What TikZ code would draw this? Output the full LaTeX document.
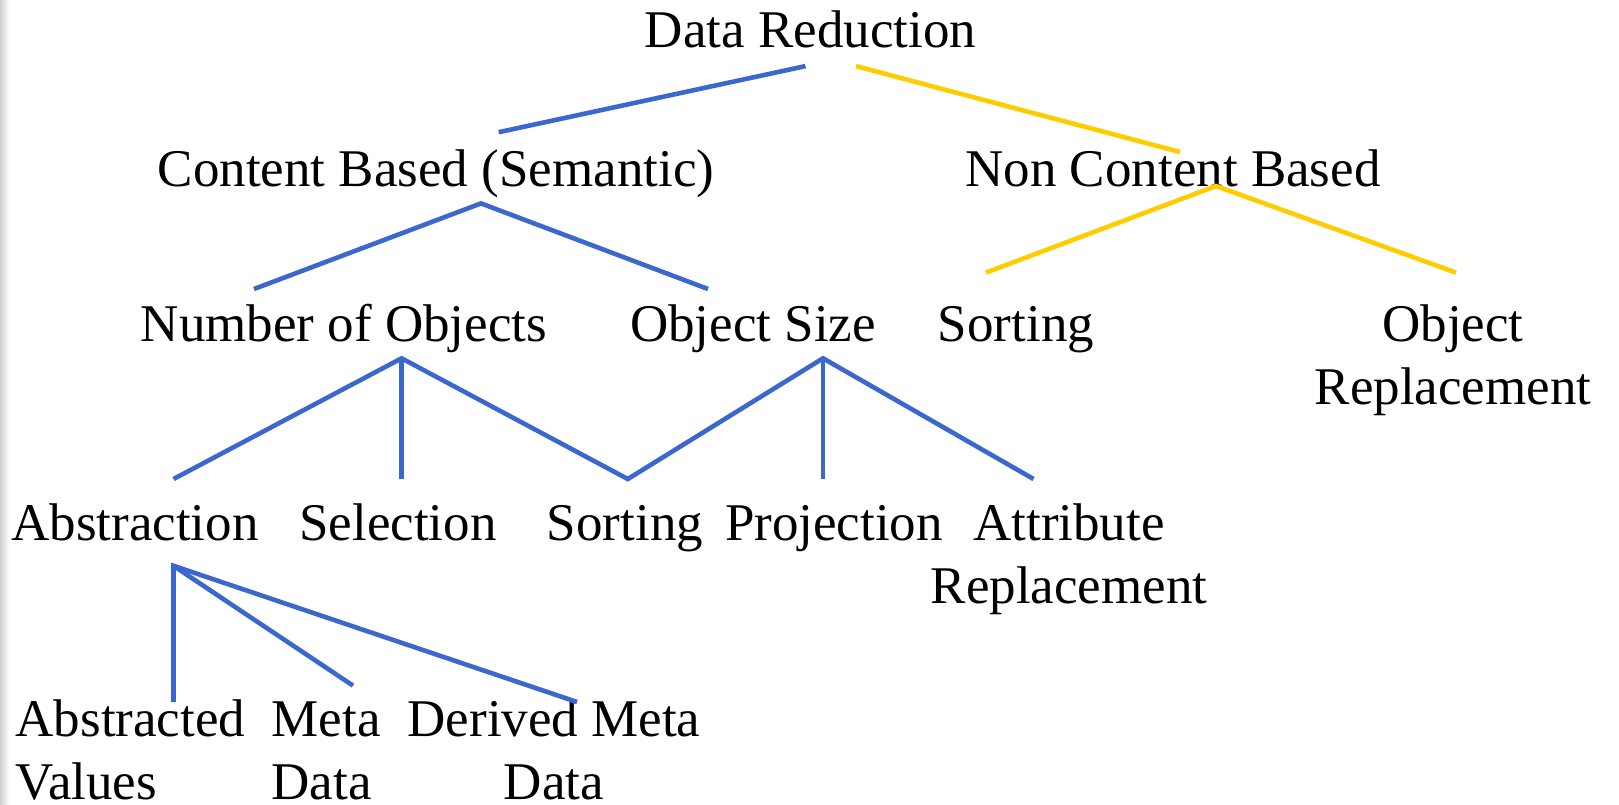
\documentclass[tikz,border=0pt]{standalone}
\usepackage{fontspec}
\setmainfont{Liberation Serif}
\usepackage{tikz}
\definecolor{TreeBlue}{RGB}{59,104,206}
\definecolor{TreeGold}{RGB}{255,204,0}
\newcommand{\lvlya}{47.5}
\newcommand{\lvlyb}{186}
\newcommand{\lvlyc}{341}
\newcommand{\lvlyd}{540}
\newcommand{\lvlye}{736}
\newcommand{\lnskip}{63.6}
\tikzset{
  bluebr/.style={draw=TreeBlue,line width=4.6pt},
  goldbr/.style={draw=TreeGold,line width=4.6pt}
}

\begin{document}
\begin{tikzpicture}[x=1pt,y=-1pt,anchor=base,inner sep=0pt,
    font=\fontsize{53}{63.6}\selectfont]
    \useasboundingbox (0,0) rectangle (1619,804);
    \shade[left color=black!18,right color=white] (0,0) rectangle (9,804);

    \node (dred) at (810.5,\lvlya) {Data Reduction};

    \node (cbas) at (436,\lvlyb) {Content Based (Semantic)};
    \node (ncbas) at (1173,\lvlyb) {Non Content Based};

    \node (nobj) at (344,\lvlyc) {Number of Objects};
    \node (osize) at (753,\lvlyc) {Object Size};
    \node (sorta) at (1016,\lvlyc) {Sorting};
    \node (orepl) at (1453,\lvlyc+\lnskip) [align=center]
      {Object\\Replacement};

    \node (abstr) at (135,\lvlyd) {Abstraction};
    \node (selec) at (398,\lvlyd) {Selection};
    \node (sortb) at (625,\lvlyd) {Sorting};
    \node (proj) at (834,\lvlyd) {Projection};
    \node (arepl) at (1069,\lvlyd+\lnskip) [align=center]
      {Attribute\\Replacement};

    \node (absval) at (15.5,\lvlye+\lnskip) [anchor=base west,align=left]
      {Abstracted\\Values};
    \node (mdata) at (271.5,\lvlye+\lnskip) [anchor=base west,align=left]
      {Meta\\Data};
    \node (dmdata) at (554,\lvlye+\lnskip) [align=center]
      {Derived Meta\\Data};

    \draw[bluebr] ([shift={(-5,18.6)}]dred.base)
      -- ([shift={(62.7,-53.8)}]cbas.base);
    \draw[goldbr] ([shift={(45.5,18.6)}]dred.base)
      -- ([shift={(7,-34)}]ncbas.base);

    \draw[goldbr] ([shift={(-30,-68.4)}]sorta.base)
      -- ([shift={(43,0)}]ncbas.base)
      -- ([shift={(3,-132)}]orepl.base);

    \draw[bluebr] ([shift={(-90,-52)}]nobj.base)
      -- ([shift={(45,17.4)}]cbas.base)
      -- ([shift={(-45,-52)}]osize.base);

    \draw[bluebr] ([shift={(38.5,-61)}]abstr.base)
      -- ([shift={(57.6,17.3)}]nobj.base)
      -- ([shift={(2.8,-61)}]sortb.base)
      -- ([shift={(70,17.3)}]osize.base)
      -- ([shift={(-35.5,-124.6)}]arepl.base);
    \draw[bluebr] ([shift={(57.6,17.3)}]nobj.base)
      -- ([shift={(3.6,-61)}]selec.base);
    \draw[bluebr] ([shift={(70,17.3)}]osize.base)
      -- ([shift={(-11,-61)}]proj.base);

    \draw[bluebr] ([shift={(158,-97.6)}]absval.base west)
      -- ([shift={(38.5,25.8)}]abstr.base)
      -- ([shift={(23,-97.6)}]dmdata.base);
    \draw[bluebr] ([shift={(38.5,25.8)}]abstr.base)
      -- ([shift={(81.5,-114)}]mdata.base west);
\end{tikzpicture}
\end{document}
